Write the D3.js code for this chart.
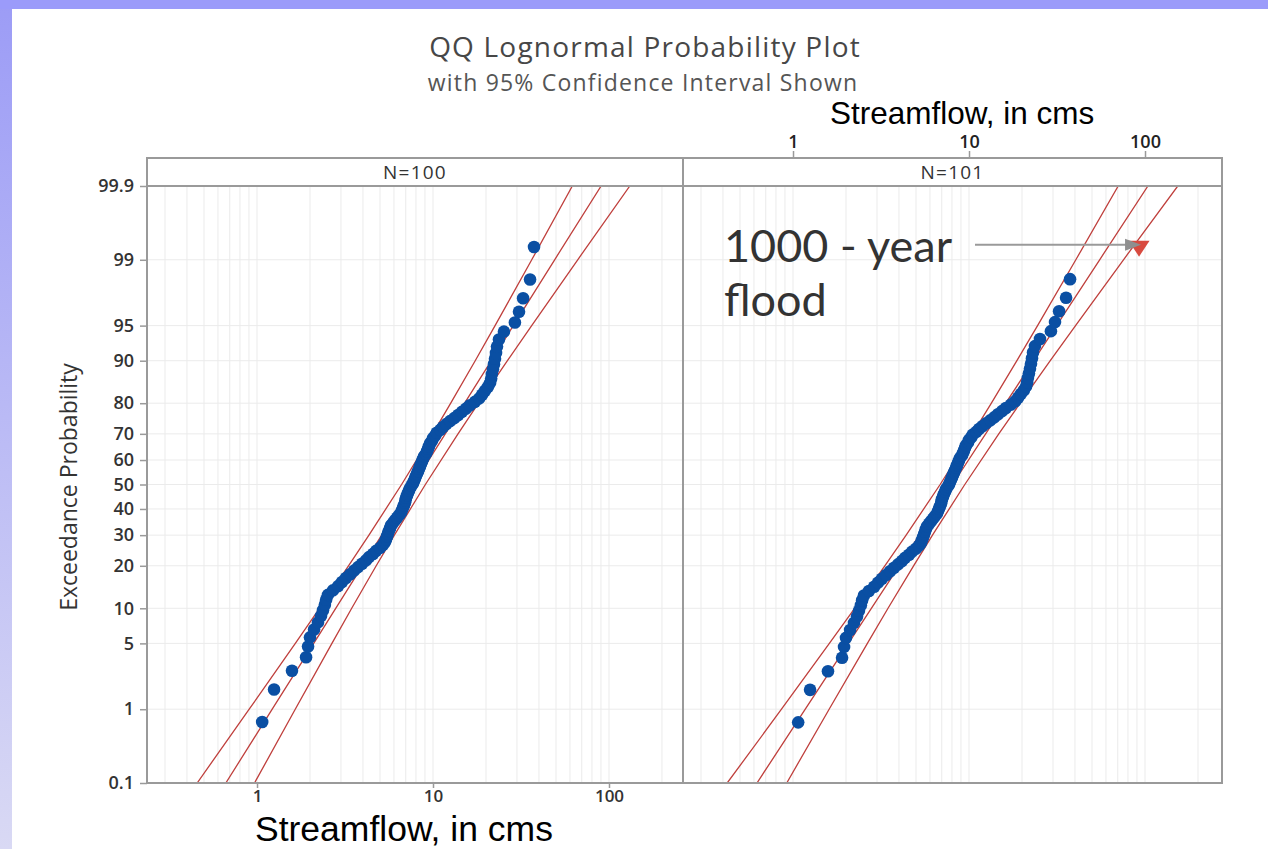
<!DOCTYPE html>
<html>
<head>
<meta charset="utf-8">
<script src="https://cdn.jsdelivr.net/npm/d3@7"></script>
<style>
  body { margin: 0; background: #fff; }
  svg { display: block; }
</style>
</head>
<body>
<svg id="chart" width="1268" height="849"></svg>
<script>
// Annual peak streamflow sample (cms), sorted ascending
const streamflow = [
  1.07, 1.25, 1.58, 1.90, 1.95, 2.00, 2.11, 2.22, 2.31, 2.37,
  2.43, 2.47, 2.53, 2.70, 2.89, 3.04, 3.20, 3.38, 3.56, 3.75,
  3.95, 4.16, 4.33, 4.56, 4.75, 5.00, 5.20, 5.34, 5.41, 5.48,
  5.55, 5.62, 5.70, 5.77, 5.93, 6.08, 6.25, 6.41, 6.58, 6.67,
  6.75, 6.84, 6.93, 6.98, 7.03, 7.12, 7.21, 7.31, 7.40, 7.55,
  7.70, 7.80, 7.90, 8.01, 8.11, 8.22, 8.33, 8.44, 8.55, 8.66,
  8.78, 8.89, 9.12, 9.25, 9.37, 9.49, 9.62, 9.87, 10.0, 10.3,
  10.5, 11.0, 11.4, 11.9, 12.5, 13.2, 13.9, 14.6, 15.4, 16.2,
  17.3, 18.3, 19.0, 19.7, 20.5, 21.1, 21.4, 21.6, 21.9, 22.2,
  22.5, 22.8, 23.1, 23.7, 25.3, 29.2, 30.8, 32.5, 35.6, 37.5
];
// Added 1000-year flood estimate (cms)
const floodValue = 92.5;

const panelTitles = ["N=100", "N=101"];
const probTicks = [0.1, 1, 5, 10, 20, 30, 40, 50, 60, 70, 80, 90, 95, 99, 99.9];
const probTickLabels = ["0.1", "1", "5", "10", "20", "30", "40", "50", "60", "70", "80", "90", "95", "99", "99.9"];
const flowTicks = [1, 10, 100];
const flowTickLabels = ["1", "10", "100"];

// Lognormal fit and 95% confidence bounds (cms) at these percent levels
const fitLevels = [0.1, 1, 5, 10, 20, 30, 50, 70, 80, 90, 95, 99, 99.9];
const fitLeft   = [0.665, 1.22, 2.10, 2.80, 3.97, 5.11, 7.74, 11.74, 15.12, 21.45, 28.6, 49.1, 90.2];
const lowerLeft = [0.457, 0.903, 1.651, 2.266, 3.310, 4.325, 6.63, 9.95, 12.61, 17.37, 22.52, 36.39, 61.9];
const upperLeft = [0.968, 1.649, 2.665, 3.452, 4.757, 6.031, 9.05, 13.87, 18.13, 26.48, 36.36, 66.4, 131.3];
const fitRight   = [0.624, 1.174, 2.064, 2.787, 4.012, 5.220, 8.054, 12.43, 16.17, 23.28, 31.44, 55.24, 103.9];
const lowerRight = [0.4227, 0.860, 1.609, 2.240, 3.324, 4.393, 6.853, 10.46, 13.40, 18.71, 24.52, 40.45, 70.43];
const upperRight = [0.921, 1.604, 2.646, 3.466, 4.842, 6.200, 9.465, 14.76, 19.52, 28.95, 40.30, 75.44, 153.5];

// Inverse standard normal CDF (Acklam)
function probit(p) {
  const a = [-3.969683028665376e+01, 2.209460984245205e+02, -2.759285104469687e+02, 1.383577518672690e+02, -3.066479806614716e+01, 2.506628277459239e+00];
  const b = [-5.447609879822406e+01, 1.615858368580409e+02, -1.556989798598866e+02, 6.680131188771972e+01, -1.328068155288572e+01];
  const c = [-7.784894002430293e-03, -3.223964580411365e-01, -2.400758277161838e+00, -2.549732539343734e+00, 4.374664141464968e+00, 2.938163982698783e+00];
  const d = [7.784695709041462e-03, 3.224671290700398e-01, 2.445134137142996e+00, 3.754408661907416e+00];
  const pl = 0.02425, ph = 1 - pl;
  let q, r;
  if (p < pl) {
    q = Math.sqrt(-2 * Math.log(p));
    return (((((c[0]*q+c[1])*q+c[2])*q+c[3])*q+c[4])*q+c[5]) / ((((d[0]*q+d[1])*q+d[2])*q+d[3])*q+1);
  }
  if (p <= ph) {
    q = p - 0.5; r = q * q;
    return (((((a[0]*r+a[1])*r+a[2])*r+a[3])*r+a[4])*r+a[5])*q / (((((b[0]*r+b[1])*r+b[2])*r+b[3])*r+b[4])*r+1);
  }
  q = Math.sqrt(-2 * Math.log(1 - p));
  return -(((((c[0]*q+c[1])*q+c[2])*q+c[3])*q+c[4])*q+c[5]) / ((((d[0]*q+d[1])*q+d[2])*q+d[3])*q+1);
}

const W = 1268, H = 849;
const plotTop = 186, plotBottom = 783, stripTop = 158;
const svg = d3.select("#chart");

// page background with lavender edges
const defs = svg.append("defs");
const edge = defs.append("linearGradient").attr("id", "edgeGrad")
  .attr("x1", 0).attr("y1", 0).attr("x2", 0).attr("y2", 1);
edge.append("stop").attr("offset", "0%").attr("stop-color", "#9c9cf6");
edge.append("stop").attr("offset", "100%").attr("stop-color", "#d9d9f4");
svg.append("rect").attr("width", W).attr("height", H).attr("fill", "#fff");
svg.append("rect").attr("x", 0).attr("y", 0).attr("width", 12).attr("height", H).attr("fill", "url(#edgeGrad)");
svg.append("rect").attr("x", 0).attr("y", 0).attr("width", W).attr("height", 9).attr("fill", "#9b9bfa");

// vertical scale: normal probability
const y = d3.scaleLinear().domain([probit(0.001), probit(0.999)]).range([plotBottom, plotTop]);
const yP = pct => y(probit(pct / 100));

const panels = [
  { x0: 147, x1: 683, domain: [0.2371, 263.3], title: panelTitles[0],
    values: streamflow, extra: null,
    fit: fitLeft, lower: lowerLeft, upper: upperLeft },
  { x0: 683, x1: 1222, domain: [0.2371, 273.8], title: panelTitles[1],
    values: streamflow, extra: floodValue,
    fit: fitRight, lower: lowerRight, upper: upperRight }
];
panels.forEach(p => { p.x = d3.scaleLog().domain(p.domain).range([p.x0, p.x1]); });

const gridColor = "#ebebeb";
const frameColor = "#9a9a9a";
const lineColor = "#bf3f3c";
const dotColor = "#0a4fa3";
const font = "'Open Sans', 'Noto Sans', sans-serif";

panels.forEach((p, pi) => {
  const g = svg.append("g");
  // minor log grid
  const minor = [];
  [0.1, 1, 10, 100].forEach(dec => { for (let m = 1; m <= 9; m++) { const v = dec * m; if (v > p.domain[0] && v < p.domain[1]) minor.push(v); } });
  g.selectAll("line.vgrid").data(minor).join("line")
    .attr("x1", d => p.x(d)).attr("x2", d => p.x(d))
    .attr("y1", plotTop).attr("y2", plotBottom)
    .attr("stroke", gridColor).attr("stroke-width", 1);
  g.selectAll("line.hgrid").data(probTicks.slice(1, -1)).join("line")
    .attr("x1", p.x0).attr("x2", p.x1)
    .attr("y1", d => yP(d)).attr("y2", d => yP(d))
    .attr("stroke", gridColor).attr("stroke-width", 1);

  // clip for fitted lines
  const clipId = "clip" + pi;
  defs.append("clipPath").attr("id", clipId).append("rect")
    .attr("x", p.x0).attr("y", plotTop).attr("width", p.x1 - p.x0).attr("height", plotBottom - plotTop);

  const line = d3.line().x(d => p.x(d[1])).y(d => yP(d[0]));
  [p.lower, p.fit, p.upper].forEach(series => {
    g.append("path")
      .datum(fitLevels.map((lv, i) => [lv, series[i]]))
      .attr("d", line)
      .attr("fill", "none")
      .attr("stroke", lineColor)
      .attr("stroke-width", 1.3)
      .attr("clip-path", `url(#${clipId})`);
  });

  // data points at median-rank plotting positions
  const n = p.values.length + (p.extra !== null ? 1 : 0);
  const pts = p.values.map((v, i) => ({ v, pct: 100 * (i + 1 - 0.3) / (n + 0.4) }));
  g.selectAll("circle").data(pts).join("circle")
    .attr("cx", d => p.x(d.v)).attr("cy", d => yP(d.pct))
    .attr("r", 6.3).attr("fill", dotColor);

  if (p.extra !== null) {
    const pct = 100 * (n - 0.3) / (n + 0.4);
    const cx = p.x(p.extra), cy = yP(pct);
    g.append("path")
      .attr("d", `M${cx - 10.5},${cy - 6} L${cx + 10.5},${cy - 6} L${cx},${cy + 10} Z`)
      .attr("fill", "#d84a3f");
    // annotation arrow
    g.append("line")
      .attr("x1", 975).attr("x2", cx - 8).attr("y1", cy - 2).attr("y2", cy - 2)
      .attr("stroke", "#9a9a9a").attr("stroke-width", 2);
    g.append("path")
      .attr("d", `M${cx - 14},${cy - 8} L${cx + 2},${cy - 2} L${cx - 14},${cy + 4} Z`)
      .attr("fill", "#8f8f8f");
    const t = g.append("text").attr("font-family", "Lato, 'Open Sans', sans-serif").attr("font-size", 45)
      .attr("fill", "#333");
    t.append("tspan").attr("x", 724).attr("y", 262).text("1000 - year");
    t.append("tspan").attr("x", 724).attr("y", 316).text("flood");
  }

  // strip header
  g.append("text").attr("x", (p.x0 + p.x1) / 2).attr("y", 179)
    .attr("text-anchor", "middle").attr("font-family", font).attr("font-size", 19)
    .attr("letter-spacing", 1.2).attr("fill", "#333").text(p.title);
});

// frame lines
const frame = svg.append("g").attr("stroke", frameColor).attr("stroke-width", 2).attr("fill", "none");
frame.append("rect").attr("x", 147).attr("y", stripTop).attr("width", 1222 - 147).attr("height", plotBottom - stripTop);
frame.append("line").attr("x1", 147).attr("x2", 1222).attr("y1", plotTop).attr("y2", plotTop);
frame.append("line").attr("x1", 683).attr("x2", 683).attr("y1", stripTop).attr("y2", plotBottom);

// probability axis
const yAxis = d3.axisLeft(y)
  .tickValues(probTicks.map(v => probit(v / 100)))
  .tickFormat((d, i) => probTickLabels[i])
  .tickSize(7).tickPadding(6);
const ya = svg.append("g").attr("transform", "translate(147,0)").call(yAxis);
ya.select(".domain").remove();
ya.selectAll(".tick line").attr("stroke", frameColor).attr("stroke-width", 1.5);
ya.selectAll(".tick text").attr("font-family", font).attr("font-size", 18)
  .attr("font-weight", 600).attr("fill", "#333");

// bottom streamflow axis (left panel)
const xAxis = d3.axisBottom(panels[0].x).tickValues(flowTicks)
  .tickFormat((d, i) => flowTickLabels[i]).tickSize(5).tickPadding(2);
const xa = svg.append("g").attr("transform", `translate(0,${plotBottom})`).call(xAxis);
xa.select(".domain").remove();
xa.selectAll(".tick line").attr("stroke", frameColor).attr("stroke-width", 1.5);
xa.selectAll(".tick text").attr("font-family", font).attr("font-size", 17)
  .attr("font-weight", 600).attr("fill", "#333");

// top streamflow axis (right panel)
const xTop = d3.axisTop(panels[1].x).tickValues(flowTicks)
  .tickFormat((d, i) => flowTickLabels[i]).tickSize(7).tickPadding(3);
const xt = svg.append("g").attr("transform", `translate(0,${stripTop})`).call(xTop);
xt.select(".domain").remove();
xt.selectAll(".tick line").attr("stroke", frameColor).attr("stroke-width", 1.5);
xt.selectAll(".tick text").attr("font-family", font).attr("font-size", 18)
  .attr("font-weight", 600).attr("fill", "#222");

// titles
svg.append("text").attr("x", 645).attr("y", 57).attr("text-anchor", "middle")
  .attr("font-family", font).attr("font-size", 28).attr("letter-spacing", 1.2)
  .attr("fill", "#474747").text("QQ Lognormal Probability Plot");
svg.append("text").attr("x", 643).attr("y", 91).attr("text-anchor", "middle")
  .attr("font-family", font).attr("font-size", 23).attr("letter-spacing", 1.2)
  .attr("fill", "#555").text("with 95% Confidence Interval Shown");
svg.append("text").attr("transform", "translate(77,487) rotate(-90)")
  .attr("text-anchor", "middle").attr("font-family", font).attr("font-size", 23)
  .attr("fill", "#333").text("Exceedance Probability");

// axis captions
svg.append("text").attr("x", 255).attr("y", 841)
  .attr("font-family", "'Liberation Sans', Arial, sans-serif").attr("font-size", 35.5)
  .attr("fill", "#000").text("Streamflow, in cms");
svg.append("text").attr("x", 830).attr("y", 124)
  .attr("font-family", "'Liberation Sans', Arial, sans-serif").attr("font-size", 31.5)
  .attr("fill", "#000").text("Streamflow, in cms");
</script>
</body>
</html>
